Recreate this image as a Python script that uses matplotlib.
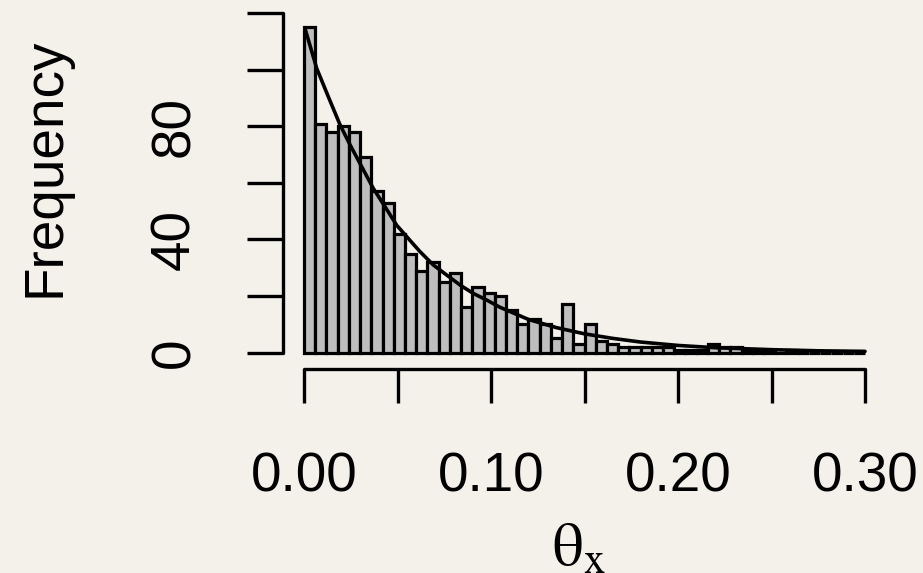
import numpy as np
import matplotlib
matplotlib.use("Agg")
import matplotlib.pyplot as plt

# histogram counts, 50 bins of width 0.006 from 0 to 0.30
bin_width = 0.006
counts = [115, 81, 78, 80, 78, 69, 57, 53, 42, 35,
          29, 32, 25, 28, 16, 23, 21, 20, 15, 10,
          12, 10, 5, 17, 3, 10, 4, 3, 2, 2,
          2, 2, 2, 1, 1, 1, 3, 2, 2, 1,
          1, 1, 0, 1, 0, 0, 0, 0, 0, 0]

# fitted density curve (scaled to counts)
curve_x = [0.0005, 0.0068, 0.0130, 0.0193, 0.0246, 0.0308, 0.0371, 0.0433,
           0.0496, 0.0549, 0.0620, 0.0691, 0.0763, 0.0834, 0.0905, 0.0976,
           0.1048, 0.120, 0.135, 0.150, 0.165, 0.180, 0.200, 0.220,
           0.250, 0.275, 0.300]
curve_y = [114.7, 100.5, 90.5, 80.5, 73.5, 65.8, 58.0, 51.6,
           45.0, 41.0, 35.7, 31.0, 27.4, 23.9, 20.9, 18.6,
           16.0, 11.7, 8.8, 6.6, 5.0, 3.7, 2.5, 1.7,
           1.0, 0.6, 0.4]

x_ticks = [0.0, 0.05, 0.10, 0.15, 0.20, 0.25, 0.30]
x_labels = ["0.00", "", "0.10", "", "0.20", "", "0.30"]
y_ticks = [0, 20, 40, 60, 80, 100, 120]
y_labels = ["0", "", "40", "", "80", "", ""]

bg = "#F4F1EA"
W, H = 923, 573

plt.rcParams["font.family"] = ["Liberation Sans", "DejaVu Sans"]
plt.rcParams["mathtext.fontset"] = "stix"

fig = plt.figure(figsize=(W / 100, H / 100), dpi=100, facecolor=bg)
# axes box in pixels: left edge = y axis line, bottom edge = x axis line
left_px, right_px, bottom_px, top_px = 283, 880, 369, 10
ax = fig.add_axes([left_px / W, 1 - bottom_px / H,
                   (right_px - left_px) / W, (bottom_px - top_px) / H])
ax.set_facecolor("none")

lefts = np.arange(len(counts)) * bin_width
ax.bar(lefts, counts, width=bin_width, align="edge", color="#BEBEBE",
       edgecolor="black", linewidth=2.3, zorder=2)
ax.plot(curve_x, curve_y, color="black", linewidth=2.6, zorder=3,
        solid_capstyle="round")

# data -> pixel mapping: 0 at 304px, 0.30 at 865px; 0 at 352.5px, 120 at 13.3px
xs = (865 - 304) / 0.30
ys = (352.5 - 13.3) / 120
ax.set_xlim(-(304 - left_px) / xs, 0.30 + (right_px - 865) / xs)
ax.set_ylim(-(bottom_px - 352.5) / ys, (352.5 - top_px) / ys)

for s in ["top", "right"]:
    ax.spines[s].set_visible(False)
for s in ["left", "bottom"]:
    ax.spines[s].set_linewidth(2.4)
    ax.spines[s].set_capstyle("round")
ax.spines["left"].set_bounds(0, 120)
ax.spines["bottom"].set_bounds(0, 0.30)

ax.set_xticks(x_ticks)
ax.set_xticklabels(x_labels)
ax.set_yticks(y_ticks)
ax.set_yticklabels(y_labels, rotation=90, va="center")
ax.tick_params(axis="x", length=24.5, width=2.4, pad=35, labelsize=39.5)
ax.tick_params(axis="y", length=26, width=2.4, pad=33, labelsize=39.5)

fig.text(46 / W, 1 - 167.5 / H, "Frequency", rotation=90, ha="center",
         va="center", fontsize=39.5)
fig.text(579 / W, 1 - 566 / H, r"$\mathrm{\theta_x}$", ha="center",
         va="baseline", fontsize=44)

fig.savefig("out.png", dpi=100, facecolor=bg)
